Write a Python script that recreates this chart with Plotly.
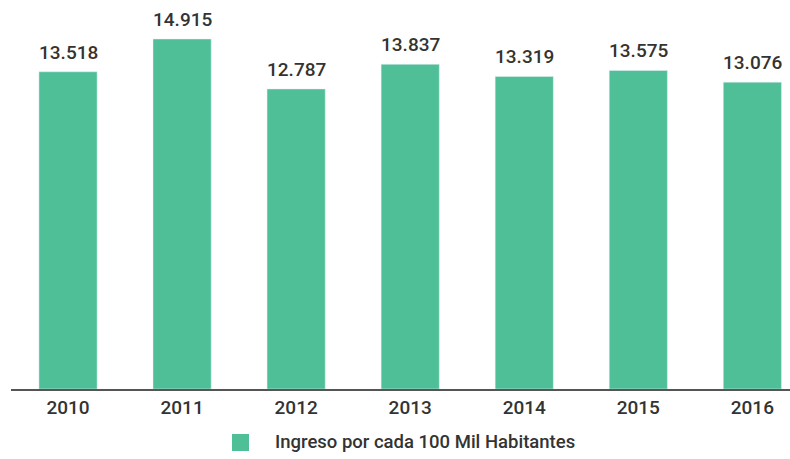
import plotly.graph_objects as go

years = ["2010", "2011", "2012", "2013", "2014", "2015", "2016"]
ingreso = [13518, 14915, 12787, 13837, 13319, 13575, 13076]
serie = "Ingreso por cada 100 Mil Habitantes"

FONT = "Roboto"
BAR = "#4fbf98"
TEXT = "#333333"
WEIGHT = 500

W, H = 790, 459
L, B = 11, 70
PW, PH = W - L, H - B


def miles(v):
    # thousands separator with a period, as in Spanish
    return f"{v:,}".replace(",", ".")


def px_x(x):
    return (x - L) / PW


def px_y(y):
    return (PH - y) / PH


fig = go.Figure(
    go.Bar(
        x=years,
        y=ingreso,
        name=serie,
        marker_color=BAR,
        width=0.51,
        showlegend=False,
    )
)

# value labels above each bar
for i, v in enumerate(ingreso):
    fig.add_annotation(
        x=i, y=v, text=miles(v), showarrow=False,
        xref="x", yref="y",
        yanchor="bottom", yshift=6,
        font=dict(family=FONT, size=19, color=TEXT, weight=WEIGHT),
    )

# legend: colour swatch and series name
fig.add_shape(
    type="rect", xref="paper", yref="paper",
    x0=px_x(232), x1=px_x(249), y0=px_y(451), y1=px_y(434),
    fillcolor=BAR, line_width=0,
)
fig.add_annotation(
    x=px_x(273), y=px_y(442), xref="paper", yref="paper",
    xanchor="left", yanchor="middle", showarrow=False,
    text=serie, font=dict(family=FONT, size=18.5, color=TEXT, weight=WEIGHT),
)

fig.update_layout(
    width=W,
    height=H,
    margin=dict(l=L, r=0, t=0, b=B, autoexpand=False),
    paper_bgcolor="white",
    plot_bgcolor="white",
    font=dict(family=FONT, size=19, color=TEXT),
    showlegend=False,
    xaxis=dict(
        type="category",
        range=[-0.5, 6.33],
        showline=True,
        linecolor="#555555",
        linewidth=1.5,
        ticks="",
        tickfont=dict(family=FONT, size=19, color=TEXT, weight=WEIGHT),
        showgrid=False,
    ),
    yaxis=dict(
        range=[0, 16577],
        visible=False,
        showgrid=False,
    ),
)

fig.write_html("out.html")
